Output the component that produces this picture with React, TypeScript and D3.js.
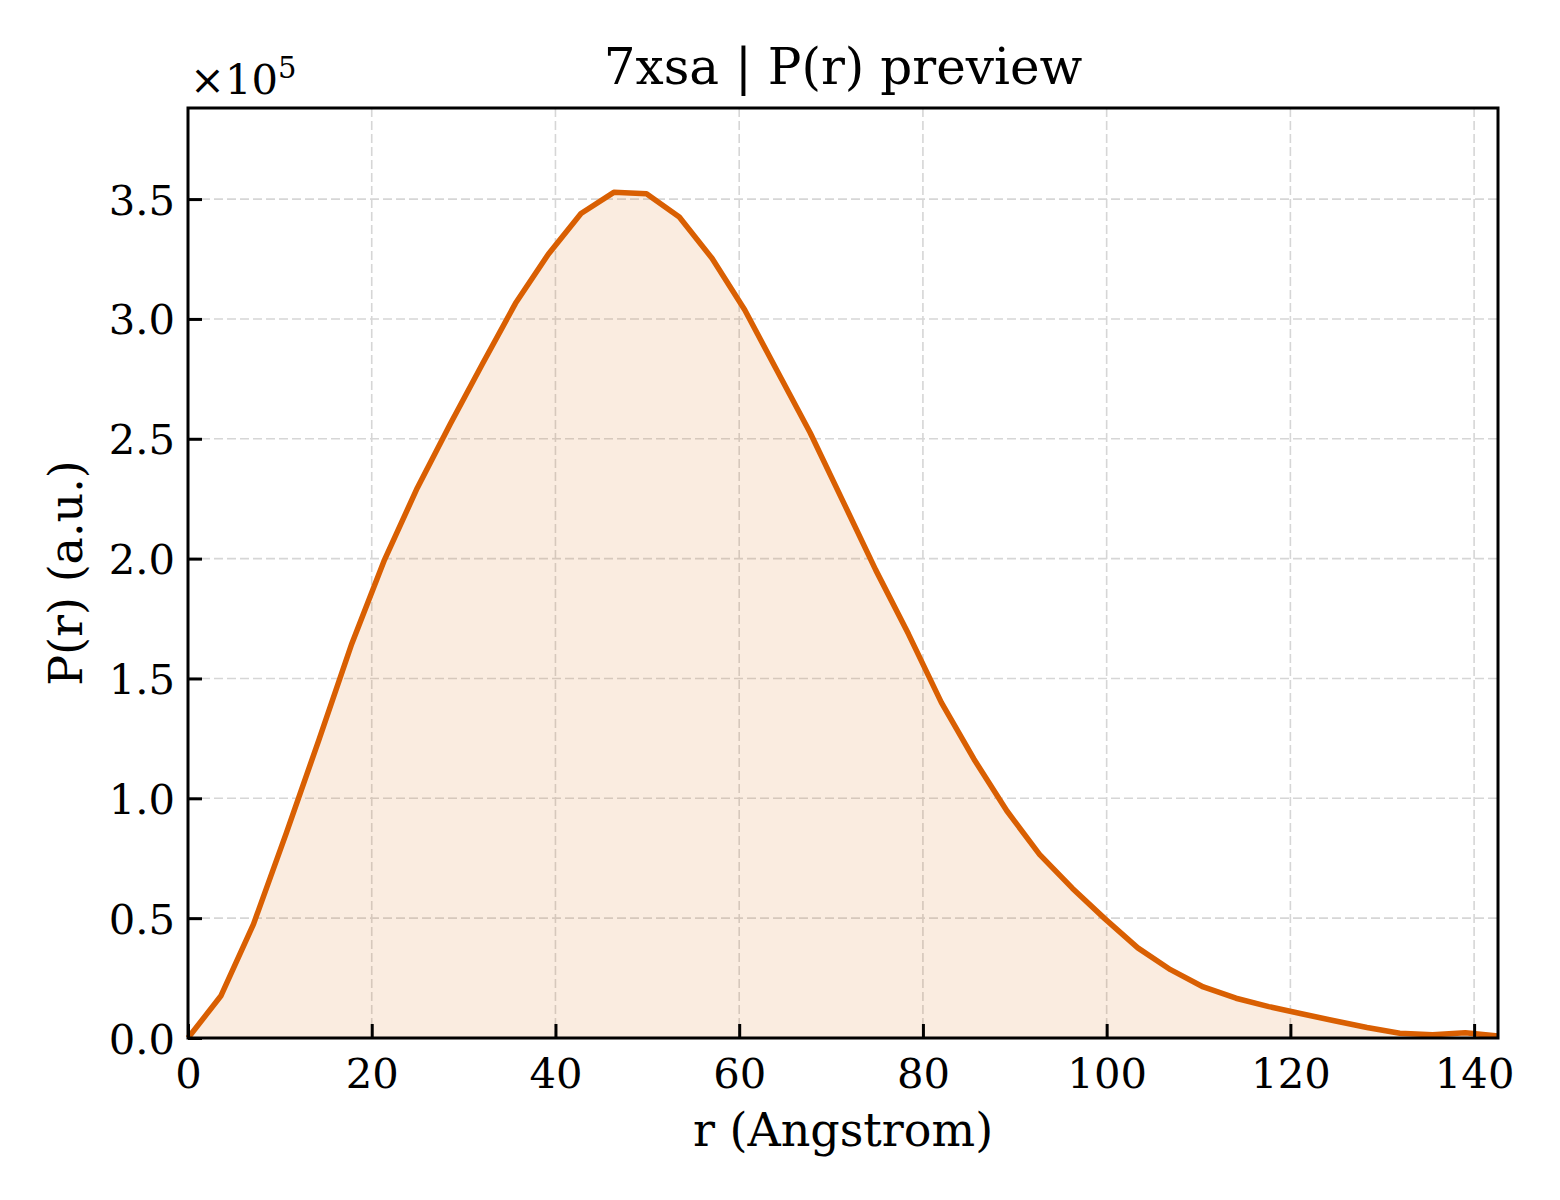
import React, { useEffect, useRef } from 'react';
import * as d3 from 'd3';

// r in Angstrom
const rValues = [
  0, 3.57, 7.13, 10.7, 14.26, 17.83, 21.39, 24.96, 28.52, 32.09, 35.65,
  39.22, 42.78, 46.35, 49.91, 53.48, 57.04, 60.61, 64.17, 67.74, 71.3,
  74.87, 78.43, 82.0, 85.56, 89.13, 92.69, 96.26, 99.82, 103.39, 106.95,
  110.52, 114.08, 117.65, 121.21, 124.78, 128.34, 131.91, 135.47, 139.04, 142.6,
];

// P(r), in units of 1e5
const prValues = [
  0, 0.175, 0.475, 0.855, 1.245, 1.645, 1.995, 2.295, 2.56, 2.815, 3.065,
  3.27, 3.44, 3.528, 3.522, 3.425, 3.253, 3.037, 2.781, 2.524, 2.239,
  1.952, 1.685, 1.4, 1.163, 0.948, 0.766, 0.625, 0.497, 0.376, 0.285,
  0.213, 0.166, 0.131, 0.101, 0.072, 0.044, 0.02, 0.014, 0.022, 0.008,
];

const xTicks = [0, 20, 40, 60, 80, 100, 120, 140];
const yTicks = [0, 0.5, 1.0, 1.5, 2.0, 2.5, 3.0, 3.5];

const App: React.FC = () => {
  const svgRef = useRef<SVGSVGElement>(null);

  useEffect(() => {
    if (!svgRef.current) return;

    const width = 1560;
    const height = 1200;
    const margin = { top: 108, right: 62, bottom: 162, left: 188 };
    const iw = width - margin.left - margin.right;
    const ih = height - margin.top - margin.bottom;
    const font = "'DejaVu Serif', serif";
    const lineColor = '#d95f02';

    const root = d3.select(svgRef.current);
    root.selectAll('*').remove();
    root.attr('width', width).attr('height', height).attr('viewBox', `0 0 ${width} ${height}`);

    root.append('rect').attr('width', width).attr('height', height).attr('fill', '#fff');

    const svg = root.append('g').attr('transform', `translate(${margin.left},${margin.top})`);

    const x = d3.scaleLinear().domain([0, 142.6]).range([0, iw]);
    const y = d3.scaleLinear().domain([0, 3.88]).range([ih, 0]);

    const data = rValues.map((r, i) => ({ r, p: prValues[i] }));

    // grid
    const grid = svg.append('g');
    grid.selectAll('.gx')
      .data(xTicks)
      .enter()
      .append('line')
      .attr('x1', d => x(d)).attr('x2', d => x(d))
      .attr('y1', 0).attr('y2', ih)
      .attr('stroke', '#d6d6d6')
      .attr('stroke-width', 1.6)
      .attr('stroke-dasharray', '9,4');
    grid.selectAll('.gy')
      .data(yTicks)
      .enter()
      .append('line')
      .attr('x1', 0).attr('x2', iw)
      .attr('y1', d => y(d)).attr('y2', d => y(d))
      .attr('stroke', '#d6d6d6')
      .attr('stroke-width', 1.6)
      .attr('stroke-dasharray', '9,4');

    // area + line
    const area = d3.area<{ r: number; p: number }>()
      .x(d => x(d.r))
      .y0(y(0))
      .y1(d => y(d.p));
    svg.append('path')
      .datum(data)
      .attr('d', area)
      .attr('fill', lineColor)
      .attr('fill-opacity', 0.12);

    const line = d3.line<{ r: number; p: number }>()
      .x(d => x(d.r))
      .y(d => y(d.p));
    svg.append('path')
      .datum(data)
      .attr('d', line)
      .attr('fill', 'none')
      .attr('stroke', lineColor)
      .attr('stroke-width', 5.5)
      .attr('stroke-linejoin', 'round');

    // axes (ticks inward)
    const xAxis = svg.append('g')
      .attr('transform', `translate(0,${ih})`)
      .call(d3.axisBottom(x).tickValues(xTicks).tickSize(-14).tickPadding(20).tickFormat(d3.format('d')));
    const yAxis = svg.append('g')
      .call(d3.axisLeft(y).tickValues(yTicks).tickSize(-14).tickPadding(13).tickFormat(d3.format('.1f')));

    [xAxis, yAxis].forEach(a => {
      a.select('.domain').remove();
      a.selectAll('.tick line').attr('stroke', '#000').attr('stroke-width', 3);
      a.selectAll('.tick text')
        .attr('fill', '#000')
        .style('font-family', font)
        .style('font-size', '41.7px');
    });
    yAxis.selectAll('.tick text').attr('dy', '0.36em');

    // frame
    svg.append('rect')
      .attr('width', iw)
      .attr('height', ih)
      .attr('fill', 'none')
      .attr('stroke', '#000')
      .attr('stroke-width', 3);

    // offset text
    const off = root.append('text')
      .attr('x', 190)
      .attr('y', 94)
      .style('font-family', font)
      .style('font-size', '41.7px')
      .attr('fill', '#000');
    off.append('tspan').text('×10');
    off.append('tspan').attr('dy', -16).style('font-size', '29px').text('5');

    // title
    root.append('text')
      .attr('x', margin.left + iw / 2)
      .attr('y', 84)
      .attr('text-anchor', 'middle')
      .style('font-family', font)
      .style('font-size', '50px')
      .attr('fill', '#000')
      .text('7xsa | P(r) preview');

    // axis labels
    root.append('text')
      .attr('x', margin.left + iw / 2)
      .attr('y', 1146)
      .attr('text-anchor', 'middle')
      .style('font-family', font)
      .style('font-size', '46px')
      .attr('fill', '#000')
      .text('r (Angstrom)');

    root.append('text')
      .attr('transform', `translate(82,${margin.top + ih / 2}) rotate(-90)`)
      .attr('text-anchor', 'middle')
      .style('font-family', font)
      .style('font-size', '46px')
      .attr('fill', '#000')
      .text('P(r) (a.u.)');
  }, []);

  return <svg ref={svgRef} style={{ position: 'absolute', left: 0, top: 0, display: 'block' }} />;
};

export default App;
